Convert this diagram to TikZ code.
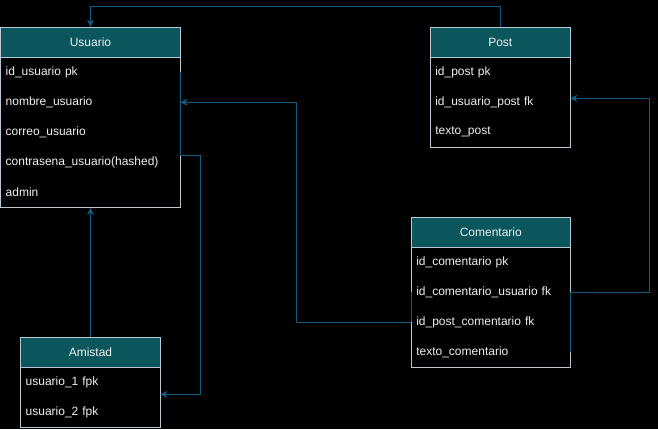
\documentclass[tikz,border=0pt]{standalone}
\usepackage{fontspec}
\setmainfont{Liberation Sans}
\usetikzlibrary{arrows.meta}
\definecolor{bgc}{HTML}{000000}
\definecolor{hdrfill}{HTML}{0B555D}
\definecolor{bordc}{HTML}{BAC8D3}
\definecolor{connc}{HTML}{115B80}
\definecolor{txtc}{HTML}{F0F0F0}
\tikzset{
  hdr/.style={draw=bordc, fill=hdrfill, line width=1pt, text=txtc, minimum height=30pt, inner sep=0pt, font=\fontsize{12}{14}\selectfont},
  body/.style={draw=bordc, line width=1pt, inner sep=0pt},
  rowtxt/.style={text=txtc, minimum height=30pt, inner xsep=5pt, inner ysep=0pt, align=left, font=\fontsize{12}{14}\selectfont},
  conn/.style={draw=connc, line width=1pt, -{Stealth[length=7pt,width=7pt,inset=2pt]}},
  connline/.style={draw=connc, line width=1pt}
}
\begin{document}
\begin{tikzpicture}[x=1pt,y=-1pt]
\fill[bgc] (0,0) rectangle (658,429);
\useasboundingbox (0,0) rectangle (658,429);

% Usuario
\node[body, minimum width=179.6pt, minimum height=150pt] (uBody) at (90.5,132.3) {};
\node[hdr, minimum width=179.6pt] (usuario) at (90.5,42.3) {Usuario};
\node[rowtxt, minimum width=179.6pt, text width=169.6pt] (u1) at (90.5,72.3) {id\_usuario pk};
\node[rowtxt, minimum width=179.6pt, text width=169.6pt] (u2) at (90.5,102.3) {nombre\_usuario};
\node[rowtxt, minimum width=179.6pt, text width=169.6pt] (u3) at (90.5,132.3) {correo\_usuario};
\node[rowtxt, minimum width=179.6pt, text width=169.6pt] (u4) at (90.5,162.3) {contrasena\_usuario(hashed)};
\node[rowtxt, minimum width=179.6pt, text width=169.6pt] (u5) at (90.5,192.3) {admin};

% Post
\node[body, minimum width=140pt, minimum height=90pt] (pBody) at (500.3,102.3) {};
\node[hdr, minimum width=140pt] (post) at (500.3,42.3) {Post};
\node[rowtxt, minimum width=140pt, text width=130pt] (p1) at (500.3,72.3) {id\_post pk};
\node[rowtxt, minimum width=140pt, text width=130pt] (p2) at (500.3,102.3) {id\_usuario\_post fk};
\node[rowtxt, minimum width=140pt, text width=130pt] (p3) at (500.3,132.3) {texto\_post};

% Comentario
\node[body, minimum width=159pt, minimum height=120pt] (cBody) at (490.8,307.3) {};
\node[hdr, minimum width=159pt] (comentario) at (490.8,232.3) {Comentario};
\node[rowtxt, minimum width=159pt, text width=149pt] (c1) at (490.8,262.3) {id\_comentario pk};
\node[rowtxt, minimum width=159pt, text width=149pt] (c2) at (490.8,292.3) {id\_comentario\_usuario fk};
\node[rowtxt, minimum width=159pt, text width=149pt] (c3) at (490.8,322.3) {id\_post\_comentario fk};
\node[rowtxt, minimum width=159pt, text width=149pt] (c4) at (490.8,352.3) {texto\_comentario};

% Amistad
\node[body, minimum width=139.6pt, minimum height=60pt] (aBody) at (90.5,397.3) {};
\node[hdr, minimum width=139.6pt, minimum height=29.6pt] (amistad) at (90.5,352.5) {Amistad};
\node[rowtxt, minimum width=139.6pt, text width=129.6pt] (a1) at (90.5,382.3) {usuario\_1 fpk};
\node[rowtxt, minimum width=139.6pt, text width=129.6pt] (a2) at (90.5,412.3) {usuario\_2 fpk};

% connector end points
\coordinate (uOut) at (180.3,155.3);
\coordinate (aIn) at (160.3,394.3);
\coordinate (pIn) at (570.3,98.3);

% Post -> Usuario
\draw[conn] (post.north) -- ++(0,-20) -| (usuario.north);
% Amistad -> Usuario
\draw[conn] (amistad.north) -- (uBody.south);
% Usuario -> Amistad
\draw[connline] (u1.east) -- (uOut);
\draw[conn] (uOut) -- ++(20,0) |- (aIn);
% Comentario -> Usuario
\draw[connline] (c2.west) -- (c3.west);
\draw[conn] (c3.west) -- ++(-115,0) |- (u2.east);
% Comentario -> Post
\draw[connline] (c4.east) -- (c2.east);
\draw[conn] (c2.east) -- ++(79,0) |- (pIn);
\end{tikzpicture}
\end{document}
